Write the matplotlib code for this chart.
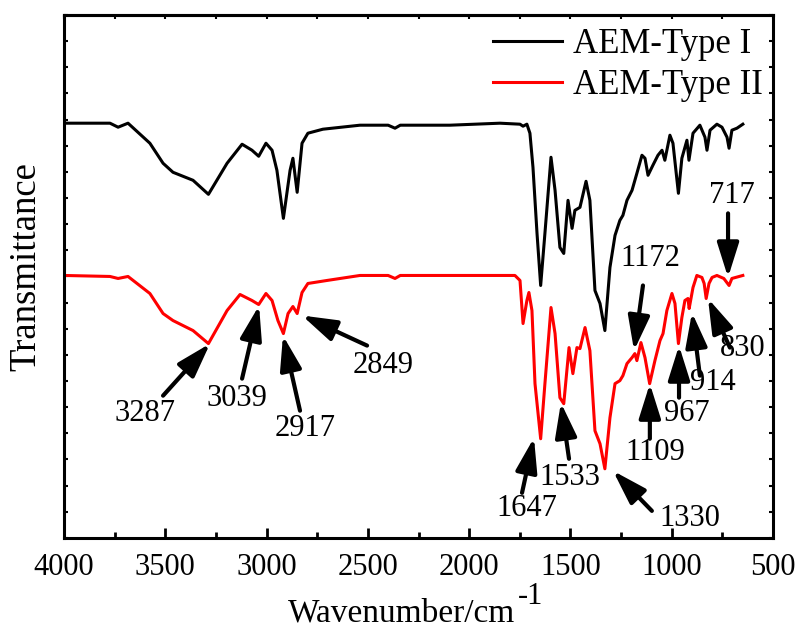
import numpy as np
import matplotlib
matplotlib.use("Agg")
import matplotlib.pyplot as plt

plt.rcParams['font.family'] = ['Liberation Serif', 'DejaVu Serif']

# FTIR spectra, transmittance in arbitrary units
wn_type1 = [4000, 3773, 3733, 3684, 3576, 3511, 3462, 3363, 3287, 3195, 3121, 3072,
            3039, 3003, 2973, 2949, 2917, 2884, 2870, 2849, 2825, 2796, 2722, 2539,
            2400, 2366, 2340, 2095, 1848, 1749, 1734, 1715, 1700, 1685, 1665, 1647,
            1626, 1596, 1576, 1552, 1533, 1512, 1492, 1478, 1453, 1423, 1404, 1379,
            1354, 1330, 1305, 1280, 1256, 1241, 1221, 1196, 1172, 1147, 1132, 1117,
            1093, 1068, 1048, 1034, 1009, 994, 967, 950, 925, 915, 895, 861, 836,
            826, 811, 777, 752, 727, 717, 703, 678, 649]
t_type1 = [414, 414, 410, 414, 394, 374, 365, 357, 343, 374, 393, 387,
           381, 394, 387, 367, 319, 367, 379, 345, 394, 404, 408, 412,
           412, 409, 412, 412, 414, 413, 411, 413, 404, 370, 304, 252,
           304, 380, 347, 290, 284, 337, 309, 327, 330, 356, 337, 247,
           234, 207, 270, 302, 317, 322, 337, 347, 364, 382, 379, 362,
           372, 382, 387, 377, 402, 394, 344, 379, 397, 377, 404, 412, 400,
           387, 407, 413, 410, 400, 389, 407, 409, 413]

wn_type2 = [4000, 3773, 3733, 3684, 3576, 3511, 3462, 3363, 3287, 3195, 3131, 3072,
            3039, 3003, 2973, 2944, 2917, 2894, 2870, 2849, 2825, 2796, 2702, 2539,
            2400, 2366, 2340, 1947, 1774, 1749, 1734, 1715, 1705, 1690, 1675, 1647,
            1626, 1596, 1576, 1552, 1533, 1507, 1488, 1468, 1453, 1428, 1404, 1379,
            1354, 1330, 1305, 1280, 1256, 1241, 1221, 1196, 1182, 1172, 1152, 1132,
            1109, 1083, 1058, 1043, 1024, 999, 984, 967, 950, 935, 920, 914, 895,
            876, 851, 840, 830, 816, 801, 777, 743, 717, 703, 649]
t_type2 = [262, 261, 259, 261, 244, 224, 217, 207, 194, 227, 243, 237,
           233, 244, 237, 217, 204, 224, 231, 224, 245, 254, 257, 262,
           262, 259, 262, 262, 262, 257, 214, 237, 245, 227, 154, 99,
           154, 230, 204, 140, 134, 190, 164, 190, 189, 210, 187, 107,
           94, 69, 120, 154, 157, 162, 174, 180, 184, 177, 195, 180,
           154, 177, 197, 204, 227, 244, 234, 194, 220, 237, 239, 229, 250,
           262, 260, 254, 239, 254, 260, 262, 259, 252, 259, 262]

series_names = ['AEM-Type I', 'AEM-Type II']

# peak labels: text, arrow tip, arrow tail, text centre (wn, T)
peak_labels = ['3287', '3039', '2917', '2849', '1647', '1533', '1330',
               '1109', '967', '914', '830', '1172', '717']
peak_tip = [(3279, 194), (3037, 232), (2919, 202), (2825, 222), (1680, 100),
            (1547, 135), (1290, 67), (1108, 154), (964, 192), (900, 225),
            (821, 239), (1186, 187), (722, 260)]
peak_tail = [(3511, 142), (3121, 159), (2835, 127), (2504, 192), (1739, 45),
             (1507, 79), (1098, 27), (1108, 99), (964, 140), (861, 162),
             (713, 190), (1142, 252), (722, 324)]
peak_text = [(3600, 124), (3146, 139), (2810, 109), (2425, 172), (1715, 29),
             (1502, 60), (910, 19), (1083, 85), (925, 124), (797, 155),
             (648, 189), (1108, 279), (703, 342)]

fig = plt.figure(figsize=(7.98, 6.33), dpi=100)
ax = fig.add_axes([0.0802, 0.1502, 0.8885, 0.8261])

ax.plot(wn_type1, t_type1, color='black', lw=2.2, label=series_names[0])
ax.plot(wn_type2, t_type2, color='red', lw=2.2, label=series_names[1])

for lab, tip, tail, txt in zip(peak_labels, peak_tip, peak_tail, peak_text):
    ax.annotate('', xy=tip, xytext=tail,
                arrowprops=dict(arrowstyle='-|>,head_length=0.7,head_width=0.22',
                                color='black', lw=3, mutation_scale=30,
                                shrinkA=0, shrinkB=0))
    ax.text(txt[0], txt[1], lab, fontsize=22, ha='center', va='center')

ax.set_xlim(4000, 500)
ax.set_ylim(0, 522)
ax.set_xticks(np.arange(4000, 499, -500))
ax.set_xticks(np.arange(3750, 500, -500), minor=True)
ax.set_yticks(np.linspace(0, 522, 21))
ax.set_yticklabels([])
ax.tick_params(axis='x', which='major', direction='in', length=7, width=2,
               labelsize=22, pad=11)
ax.tick_params(axis='x', which='minor', direction='in', length=4, width=2)
ax.tick_params(axis='y', direction='in', length=3, width=1.5, left=True, right=True)

top = ax.secondary_xaxis('top')
top.set_xticks(np.arange(4000, 499, -250))
top.set_xticklabels([])
top.tick_params(direction='in', length=3, width=1.5)
top.spines['top'].set_linewidth(2.2)

for s in ax.spines.values():
    s.set_linewidth(2.2)

# axis labels placed by hand, x label with a raised "-1" like the original
fig.text(401 / 798, 1 - 622 / 633, 'Wavenumber/cm', fontsize=24,
         ha='center', va='baseline')
fig.text(518 / 798, 1 - 604 / 633, '-1', fontsize=22, ha='left', va='baseline')
fig.text(26 / 798, 1 - 267 / 633, 'Transmittance', fontsize=26.5,
         rotation=90, ha='center', va='center')

ax.legend(loc='upper left', bbox_to_anchor=(0.605, 0.975), frameon=False,
          fontsize=25, handlelength=2.0, handletextpad=0.3, labelspacing=0.22,
          borderpad=0, borderaxespad=0)

fig.savefig('out.png', dpi=100)
